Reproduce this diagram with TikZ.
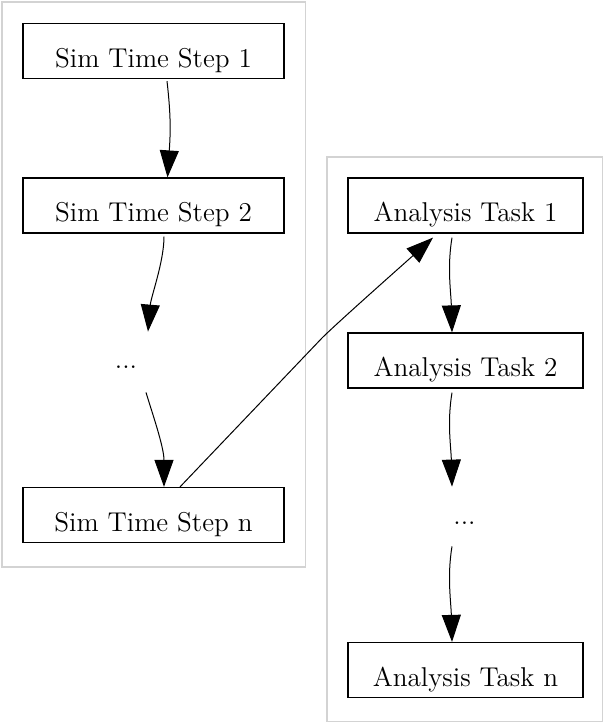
\documentclass[tikz,border=0pt]{standalone}
\usetikzlibrary{arrows.meta,calc}
\definecolor{clus}{RGB}{211,211,211}
\begin{document}
\begin{tikzpicture}[x=0.5pt,y=-0.5pt,
  txt/.style={font=\fontsize{13.6}{16}\selectfont, text height=16pt, text depth=0pt, inner sep=0pt},
  stepbox/.style={txt, draw, line width=0.6pt, minimum width=130.5pt, minimum height=27.5pt},
  taskbox/.style={txt, draw, line width=0.6pt, minimum width=117.5pt, minimum height=27.5pt},
  conn/.style={-{Triangle[length=13.5pt,width=9.5pt]}, line width=0.5pt},
  cluster/.style={draw=clus, line width=0.7pt}]
\useasboundingbox (0,0) rectangle (604,723);
% clusters
\draw[cluster] (2,2) rectangle (305.5,567);
\draw[cluster] (327,157) rectangle (602.5,721.5);
% nodes
\node[stepbox] (s1) at (153.5,51) {Sim Time Step 1};
\node[stepbox] (s2) at (153.5,205.5) {Sim Time Step 2};
\node[txt] (dl) at (126,352) {...};
\node[stepbox] (sn) at (153.5,515) {Sim Time Step n};
\node[taskbox] (a1) at (465.5,205.5) {Analysis Task 1};
\node[taskbox] (a2) at (465.5,360.5) {Analysis Task 2};
\node[txt] (dr) at (464.5,508) {...};
\node[taskbox] (an) at (465.5,670) {Analysis Task n};
\coordinate (bend) at (322,338);
% edges
\draw[conn] ($(s1.south)+(13.5,2)$) .. controls +(4,35) and +(3,-45) .. ($(s2.north)+(14,0)$);
\draw[conn] ($(s2.south)+(10.5,3)$) .. controls +(0,25) and +(3,-35) .. ($(dl.north)+(22,-4)$);
\draw[conn] ($(dl.south)+(20,24)$) .. controls +(6,20) and +(0,-40) .. ($(sn.north)+(10.5,0)$);
\draw[conn] ($(sn.north)+(26.5,0)$) -- (bend) .. controls +(15,-15) and +(-30,27) .. ($(a1.south)+(-32.5,4)$);
\draw[conn] ($(a1.south)+(-13.5,4)$) .. controls +(-5,30) and +(-1,-40) .. ($(a2.north)+(-13.5,0)$);
\draw[conn] ($(a2.south)+(-13.5,4)$) .. controls +(-5,30) and +(-1,-40) .. ($(dr.north)+(-12.5,-5)$);
\draw[conn] ($(dr.south)+(-12.5,22)$) .. controls +(-5,30) and +(-1,-40) .. ($(an.north)+(-13.5,0)$);
\end{tikzpicture}
\end{document}
